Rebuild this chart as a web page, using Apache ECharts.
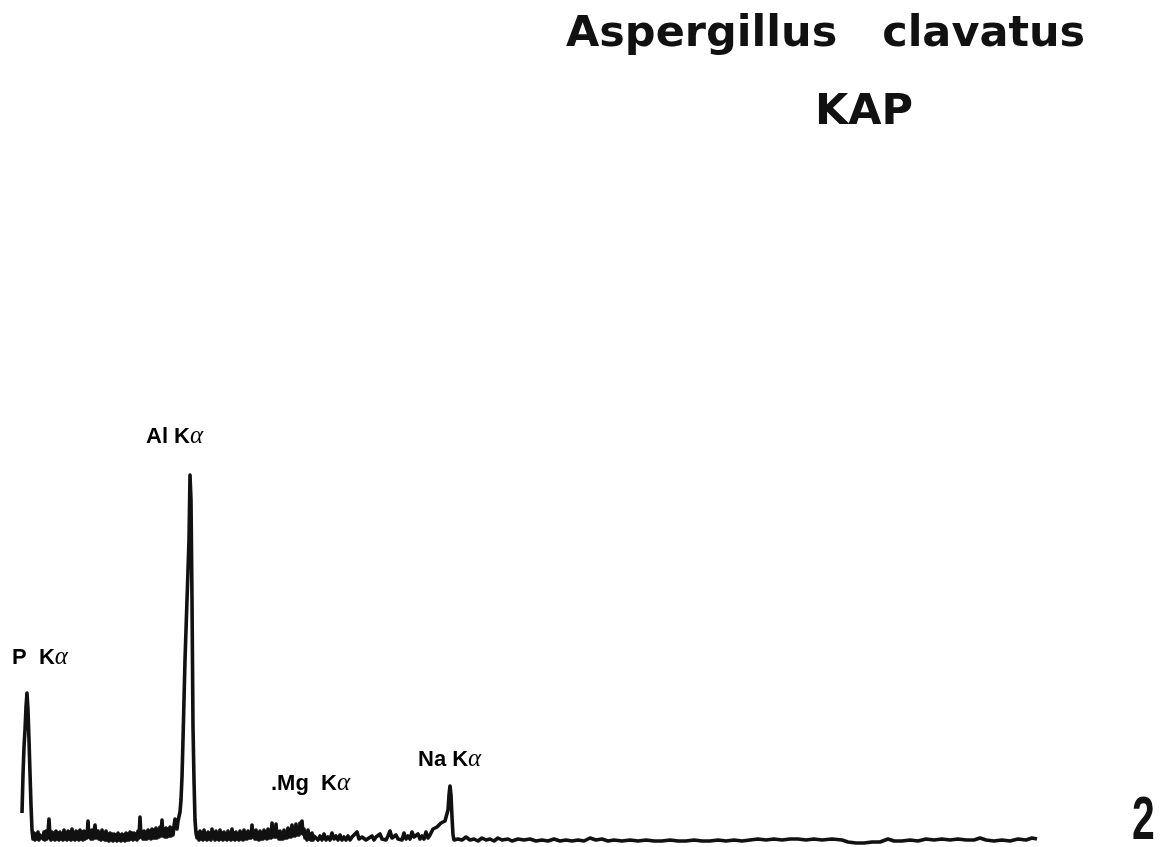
<!DOCTYPE html>
<html>
<head>
<meta charset="utf-8">
<script src="https://cdn.jsdelivr.net/npm/echarts@6/dist/echarts.min.js"></script>
<style>
  html, body { margin: 0; padding: 0; background: #ffffff; }
  #chart { width: 1160px; height: 847px; }
</style>
</head>
<body>
<div id="chart"></div>
<script>
// ---- Data: [channel, counts] ----
var pRegion = [
  [0, 32], [1, 70], [2, 98], [3, 115], [4, 138], [5, 152], [6, 135], [7, 105],
  [8, 72], [9, 40], [10, 15], [11, 6]
];
var baseline1 = [
  [12, 12], [13, 5], [14, 11], [15, 6], [16, 13], [17, 5], [18, 10], [20, 12], [21, 6], [22, 13],
  [23, 5], [24, 14], [25, 6], [26, 12], [27, 26], [28, 9], [29, 5], [30, 13], [31, 6], [32, 12],
  [33, 5], [34, 14], [35, 6], [36, 12], [37, 5], [38, 13], [39, 6], [40, 11], [41, 5], [42, 15],
  [43, 6], [44, 12], [45, 5], [46, 14], [47, 6], [48, 13], [49, 5], [50, 16], [51, 6], [52, 12],
  [53, 5], [54, 14], [55, 6], [56, 13], [57, 5], [58, 15], [59, 6], [60, 13], [61, 5], [62, 14],
  [63, 6], [64, 13], [65, 7], [66, 24], [67, 8], [68, 14], [69, 6], [70, 15], [71, 6], [72, 13],
  [73, 20], [74, 7], [75, 5], [76, 14], [77, 6], [78, 12], [79, 5], [80, 15], [81, 6], [82, 12],
  [83, 5], [84, 14], [85, 5], [86, 11], [87, 4], [88, 12], [89, 5], [90, 11], [91, 4], [92, 11],
  [93, 5], [94, 10], [95, 4], [96, 12], [97, 5], [98, 10], [99, 4], [100, 11], [101, 5], [102, 10],
  [103, 4], [104, 12], [105, 5], [106, 11], [107, 5], [108, 13], [109, 6], [110, 12], [111, 5], [112, 12],
  [113, 6], [114, 11], [115, 5], [116, 14], [117, 7], [118, 28], [119, 8], [120, 13], [121, 6], [122, 14],
  [123, 6], [124, 13], [125, 6], [126, 15], [127, 7], [128, 14], [129, 6], [130, 16], [131, 7], [132, 15],
  [133, 7], [134, 17], [135, 7], [136, 15], [137, 8], [138, 18], [139, 9], [140, 25], [141, 9], [142, 16],
  [143, 8], [144, 17], [145, 8], [146, 16], [147, 9], [148, 18], [149, 9], [150, 17], [151, 10], [152, 19],
  [153, 26]
];
var alRegion = [
  [154, 20], [155, 16], [156, 24], [157, 22], [158, 33], [159, 45], [160, 68], [161, 105], [162, 145],
  [163, 185], [164, 215], [165, 245], [166, 275], [167, 305], [168, 370], [169, 345], [170, 245],
  [171, 118], [172, 65], [173, 25], [174, 12], [175, 7]
];
var mgRegion = [
  [176, 12], [177, 5], [178, 14], [179, 6], [180, 12], [181, 5], [182, 15], [183, 6], [184, 11], [185, 5],
  [186, 13], [187, 6], [188, 12], [189, 5], [190, 16], [191, 7], [192, 12], [193, 5], [194, 14], [195, 6],
  [196, 11], [197, 5], [198, 15], [199, 6], [200, 12], [201, 5], [202, 13], [203, 6], [204, 11], [205, 5],
  [206, 14], [207, 6], [208, 12], [209, 5], [210, 16], [211, 6], [212, 12], [213, 5], [214, 13], [215, 6],
  [216, 11], [217, 5], [218, 14], [219, 6], [220, 12], [221, 5], [222, 15], [223, 6], [224, 12], [225, 6],
  [226, 14], [227, 7], [228, 13], [229, 7], [230, 20], [231, 8], [232, 13], [233, 6], [234, 15], [235, 6],
  [236, 12], [237, 5], [238, 14], [239, 6], [240, 12], [241, 6], [242, 15], [243, 7], [244, 13], [245, 6],
  [246, 16], [247, 7], [248, 13], [249, 7], [250, 22], [251, 8], [252, 15], [253, 8], [254, 21], [255, 8],
  [256, 13], [257, 6], [258, 14], [259, 6], [260, 12], [261, 6], [262, 15], [263, 7], [264, 13], [265, 7],
  [266, 17], [267, 8], [268, 14], [269, 8], [270, 20], [271, 9], [272, 16], [273, 9], [274, 21], [275, 10],
  [276, 17], [277, 10], [278, 22], [279, 12], [280, 24], [281, 11], [282, 16], [283, 7], [284, 12], [285, 5],
  [286, 15], [287, 6], [288, 11], [289, 5], [290, 12], [291, 5], [292, 9]
];
var baseline3 = [
  [294, 10], [296, 5], [298, 9], [300, 5], [302, 11], [304, 5], [306, 8], [308, 5], [310, 12], [312, 6],
  [314, 9], [316, 5], [318, 10], [320, 5], [322, 8], [324, 5], [326, 9], [328, 5], [330, 8], [332, 6],
  [335, 13], [337, 6], [340, 8], [342, 10], [344, 5], [346, 7], [350, 9], [352, 5], [354, 8], [356, 6],
  [358, 11], [360, 6], [362, 8], [364, 5], [366, 9], [368, 14], [370, 7], [372, 5], [374, 10], [376, 6],
  [378, 8], [380, 5], [382, 12], [384, 6], [386, 9], [388, 6], [390, 13], [392, 8], [394, 6], [396, 11],
  [398, 6], [400, 9], [402, 6], [404, 13], [406, 7], [408, 10], [411, 16]
];
var naRegion = [
  [413, 14], [415, 18], [417, 19], [419, 22], [421, 23], [423, 24], [425, 26], [426, 35],
  [427, 50], [428, 59], [429, 50], [430, 28], [431, 10], [432, 5]
];
var tailRegion = [
  [433, 4], [436, 6], [440, 5], [444, 8], [448, 5], [452, 6], [456, 4], [460, 7], [464, 5], [468, 6],
  [472, 4], [476, 7], [480, 5], [486, 6], [490, 4], [496, 6], [502, 5], [508, 6], [514, 4], [520, 5],
  [526, 4], [532, 6], [538, 4], [544, 5], [550, 4], [556, 5], [562, 4], [568, 7], [574, 5], [580, 6],
  [586, 4], [592, 5], [600, 4], [608, 5], [616, 4], [624, 5], [632, 4], [640, 4], [648, 5], [656, 4],
  [664, 4], [672, 5], [680, 4], [688, 4], [696, 5], [704, 4], [712, 5], [720, 4], [728, 5], [736, 6],
  [744, 5], [752, 6], [760, 5], [768, 6], [776, 6], [784, 5], [792, 6], [800, 5], [810, 6], [820, 5],
  [826, 3], [834, 2], [842, 2], [850, 3], [858, 3], [866, 6], [872, 4], [880, 4], [888, 5], [896, 4],
  [904, 6], [912, 5], [920, 6], [928, 5], [936, 6], [944, 5], [952, 5], [958, 7], [964, 5], [972, 4],
  [980, 5], [988, 4], [996, 6], [1004, 5], [1010, 7], [1015, 6]
];
var titleLines = ['Aspergillus   clavatus', 'KAP'];
var peakNames = ['P  K', 'Al K', '.Mg  K', 'Na K'];
var figureNumber = '2';

var spectrum = [].concat(pRegion, baseline1, alRegion, mgRegion, baseline3, naRegion, tailRegion);

var chart = echarts.init(document.getElementById('chart'), null, { renderer: 'canvas' });

var labelRich = {
  b: { fontFamily: 'Liberation Sans', fontWeight: 'bold', fontSize: 22, color: '#111' },
  a: { fontFamily: 'Liberation Serif', fontStyle: 'italic', fontSize: 25, color: '#111' }
};
function peakLabel(name, x, y) {
  return {
    type: 'text', left: x, top: y, silent: true,
    style: { text: '{b|' + name + '}{a|\u03b1}', rich: labelRich }
  };
}

chart.setOption({
  animation: false,
  backgroundColor: '#ffffff',
  grid: { left: 22, right: 118, top: 445, bottom: 2, containLabel: false },
  xAxis: { type: 'value', min: 0, max: 1020, show: false },
  yAxis: { type: 'value', min: 0, max: 400, show: false },
  series: [{
    type: 'line',
    data: spectrum,
    showSymbol: false,
    symbol: 'none',
    clip: false,
    lineStyle: { color: '#111111', width: 3.6, join: 'round' }
  }],
  graphic: [
    { type: 'text', left: 566, top: 13, silent: true,
      style: { text: titleLines[0], font: 'bold 43px "DejaVu Sans"', fill: '#111' } },
    { type: 'text', left: 815, top: 91, silent: true,
      style: { text: titleLines[1], font: 'bold 43px "DejaVu Sans"', fill: '#111' } },
    peakLabel(peakNames[0], 12, 645),
    peakLabel(peakNames[1], 146, 424),
    peakLabel(peakNames[2], 271, 771),
    peakLabel(peakNames[3], 418, 747),
    { type: 'text', x: 1132, y: 791, scaleX: 0.66, silent: true,
      style: { text: figureNumber, x: 0, y: 0, font: 'bold 62px "Liberation Sans Narrow", "Liberation Sans"', fill: '#111', textVerticalAlign: 'top' } }
  ]
});
</script>
</body>
</html>
